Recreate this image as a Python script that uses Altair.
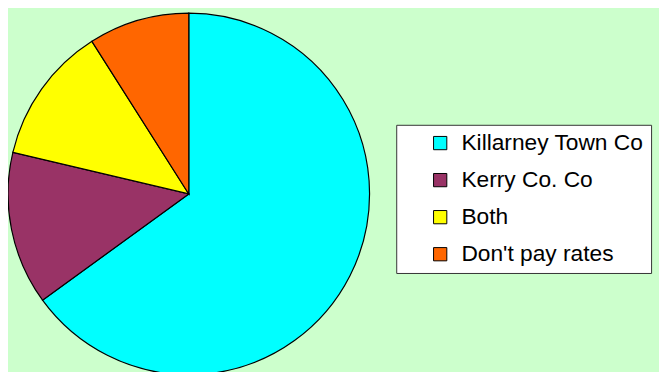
import altair as alt
import pandas as pd

categories = ["Killarney Town Co", "Kerry Co. Co", "Both", "Don't pay rates"]
values = [65, 13.7, 12.3, 9]
colors = ["#00FFFF", "#993366", "#FFFF00", "#FF6600"]

df = pd.DataFrame({"category": categories, "value": values, "order": list(range(len(categories)))})

chart = alt.Chart(df).mark_arc(
    outerRadius=183, stroke="black", strokeWidth=1.2
).encode(
    theta=alt.Theta("value:Q", stack=True),
    order=alt.Order("order:Q"),
    color=alt.Color(
        "category:N",
        scale=alt.Scale(domain=categories, range=colors),
        sort=categories,
        legend=alt.Legend(
            title=None,
            orient="none",
            legendX=393,
            legendY=116,
            fillColor="white",
            strokeColor="#333333",
            padding=7,
            symbolOffset=26,
            symbolType="square",
            symbolSize=180,
            symbolStrokeColor="black",
            symbolStrokeWidth=1,
            labelFont="Liberation Sans",
            labelFontSize=23,
            labelColor="black",
            labelOffset=10,
            rowPadding=13.5,
            labelLimit=400,
        ),
    ),
    x=alt.value(183),
    y=alt.value(186),
).properties(
    width=659,
    height=364,
    autosize=alt.AutoSizeParams(type="none"),
    padding=0,
    background="#CCFFCC",
).configure_view(stroke=None)

chart.save("out.html", embed_options={"renderer": "svg", "actions": False})
